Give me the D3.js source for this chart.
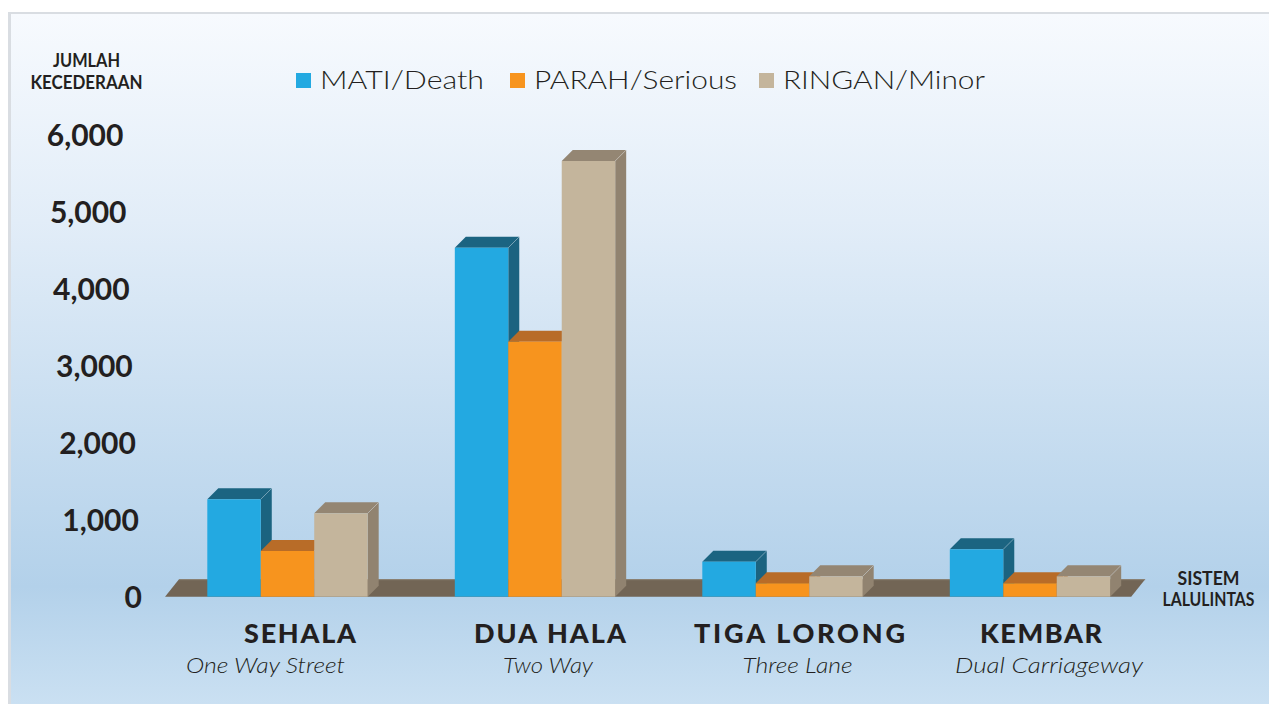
<!DOCTYPE html>
<html>
<head>
<meta charset="utf-8">
<script src="https://cdn.jsdelivr.net/npm/d3@7"></script>
<style>
  html,body{margin:0;padding:0;background:#fff;}
  svg{display:block;}
</style>
</head>
<body>
<svg id="chart" width="1269" height="704"></svg>
<script>
// ---------- DATA ----------
const categories = ["SEHALA", "DUA HALA", "TIGA LORONG", "KEMBAR"];
const categoriesEn = ["One Way Street", "Two Way", "Three Lane", "Dual Carriageway"];
const seriesNames = ["MATI/Death", "PARAH/Serious", "RINGAN/Minor"];
const deathValues = [1266, 4535, 455, 616];
const seriousValues = [594, 3314, 174, 174];
const minorValues = [1084, 5662, 265, 265];
const yTickValues = [0, 1000, 2000, 3000, 4000, 5000, 6000];
const yAxisTitle = ["JUMLAH", "KECEDERAAN"];
const xAxisTitle = ["SISTEM", "LALULINTAS"];

// ---------- STYLE / LAYOUT ----------
const W = 1269, H = 704;
const colors = [
  {front: "#23a9e1", top: "#1b6481", side: "#1b6380"},
  {front: "#f7941e", top: "#b86c28", side: "#a96426"},
  {front: "#c4b59c", top: "#948673", side: "#918370"}
];
const depthX = 11, depthY = -11;
const floorDX = 14, floorDY = -17.5;
const mainDx = [12.5, 15, 17, 11];
const subDx = [-22, 13, 15, 19];
const mainW = [112, 152, 211, 122];
const subW = [159, 90, 110, 188];

const svg = d3.select("#chart");
const defs = svg.append("defs");
const grad = defs.append("linearGradient").attr("id", "bg")
  .attr("x1", 0).attr("y1", 0).attr("x2", 0).attr("y2", 1);
[[0, "#f7fafe"], [0.3, "#e2edf8"], [0.83, "#b3d1ea"], [1, "#cae0f2"]].forEach(s =>
  grad.append("stop").attr("offset", s[0]).attr("stop-color", s[1]));

// frame + background
svg.append("rect").attr("x", 8).attr("y", 12).attr("width", W - 8).attr("height", H - 12)
  .attr("fill", "#d9dde2");
svg.append("rect").attr("x", 11).attr("y", 14).attr("width", W - 11).attr("height", H - 14)
  .attr("fill", "url(#bg)");

// scales
const y = d3.scaleLinear().domain([0, 6000]).range([596.7, 135]);
const x0 = d3.scaleBand().domain(categories).range([163.75, 1153.75])
  .paddingInner(0.352).paddingOuter(0.176);
const x1 = d3.scaleBand().domain(seriesNames).range([0, x0.bandwidth()]);
const seriesValues = [deathValues, seriousValues, minorValues];

// floor
const y0 = y(0);
const fl = x0(categories[0]) - 42.3;
const fr = x0(categories[categories.length - 1]) + x0.bandwidth() + 21;
svg.append("path")
  .attr("d", `M${fl},${y0} L${fr},${y0} L${fr + floorDX},${y0 + floorDY} L${fl + floorDX},${y0 + floorDY} Z`)
  .attr("fill", "#726555");
svg.append("line").attr("x1", fl + floorDX).attr("x2", fr + floorDX)
  .attr("y1", y0 + floorDY + 0.5).attr("y2", y0 + floorDY + 0.5)
  .attr("stroke", "#8d8170").attr("stroke-width", 1);

// bars
const gBars = svg.append("g");
categories.forEach((cat, ci) => {
  seriesNames.forEach((s, si) => {
    const v = seriesValues[si][ci];
    const bx = x0(cat) + x1(s);
    const bw = x1.bandwidth();
    const by = y(v);
    const c = colors[si];
    const g = gBars.append("g");
    // side
    g.append("path")
      .attr("d", `M${bx + bw},${by} L${bx + bw + depthX},${by + depthY} L${bx + bw + depthX},${y0 + depthY} L${bx + bw},${y0} Z`)
      .attr("fill", c.side);
    // top
    g.append("path")
      .attr("d", `M${bx},${by} L${bx + depthX},${by + depthY} L${bx + bw + depthX},${by + depthY} L${bx + bw},${by} Z`)
      .attr("fill", c.top);
    // edge highlight
    g.append("path")
      .attr("d", `M${bx + bw},${by} L${bx + bw + depthX},${by + depthY}`)
      .attr("stroke", "#ffffff").attr("stroke-opacity", 0.25).attr("stroke-width", 1);
    // front
    g.append("rect").attr("x", bx).attr("y", by).attr("width", bw).attr("height", y0 - by)
      .attr("fill", c.front);
  });
});

// y axis
const yAxis = d3.axisLeft(y).tickValues(yTickValues).tickFormat(d3.format(",")).tickSize(0).tickPadding(0);
const gy = svg.append("g").call(yAxis);
gy.select(".domain").remove();
gy.selectAll(".tick").attr("transform", (d, i) => `translate(${142 - 3.1 * i},${y(d)})`);
gy.selectAll(".tick text")
  .attr("x", 0).attr("dy", "0.36em")
  .attr("fill", "#231f20")
  .style("font-family", "Lato, 'DejaVu Sans', sans-serif")
  .style("font-weight", "bold")
  .style("font-size", "30px");

// y axis title
svg.append("g").selectAll("text").data(yAxisTitle).join("text")
  .attr("x", 86.5).attr("y", (d, i) => 66.7 + i * 22.6)
  .attr("text-anchor", "middle")
  .attr("textLength", (d, i) => [67, 112][i]).attr("lengthAdjust", "spacingAndGlyphs")
  .attr("fill", "#231f20")
  .style("font-family", "Lato, sans-serif").style("font-weight", "bold").style("font-size", "18px")
  .text(d => d);

// x axis title
svg.append("g").selectAll("text").data(xAxisTitle).join("text")
  .attr("x", 1208.5).attr("y", (d, i) => 585 + i * 21)
  .attr("text-anchor", "middle")
  .attr("textLength", (d, i) => [62, 92][i]).attr("lengthAdjust", "spacingAndGlyphs")
  .attr("fill", "#231f20")
  .style("font-family", "Lato, sans-serif").style("font-weight", "bold").style("font-size", "18px")
  .text(d => d);

// category labels
const gx = svg.append("g");
gx.selectAll("text.main").data(categories).join("text").attr("class", "main")
  .attr("x", (d, i) => x0(d) + x0.bandwidth() / 2 + mainDx[i]).attr("y", 642.7)
  .attr("text-anchor", "middle")
  .attr("textLength", (d, i) => mainW[i]).attr("lengthAdjust", "spacing")
  .attr("fill", "#231f20")
  .style("font-family", "Lato, sans-serif").style("font-weight", "900").style("font-size", "27px")
  .text(d => d);
gx.selectAll("text.sub").data(categoriesEn).join("text").attr("class", "sub")
  .attr("x", (d, i) => x0(categories[i]) + x0.bandwidth() / 2 + subDx[i]).attr("y", 672.7)
  .attr("text-anchor", "middle")
  .attr("textLength", (d, i) => subW[i]).attr("lengthAdjust", "spacingAndGlyphs")
  .attr("fill", "#231f20")
  .style("font-family", "Lato, sans-serif").style("font-style", "italic").style("font-weight", "300").style("font-size", "22px")
  .text(d => d);

// legend
const legX = [296, 510, 759];
const legW = [164, 203, 202];
const leg = svg.append("g").selectAll("g").data(seriesNames).join("g")
  .attr("transform", (d, i) => `translate(${legX[i]},0)`);
leg.append("rect").attr("x", 0).attr("y", 73).attr("width", 15).attr("height", 15)
  .attr("fill", (d, i) => colors[i].front);
leg.append("text").attr("x", 24).attr("y", 89)
  .attr("textLength", (d, i) => legW[i]).attr("lengthAdjust", "spacingAndGlyphs")
  .attr("fill", "#231f20")
  .style("font-family", "Lato, sans-serif").style("font-weight", "300").style("font-size", "26px")
  .text(d => d);
</script>
</body>
</html>
